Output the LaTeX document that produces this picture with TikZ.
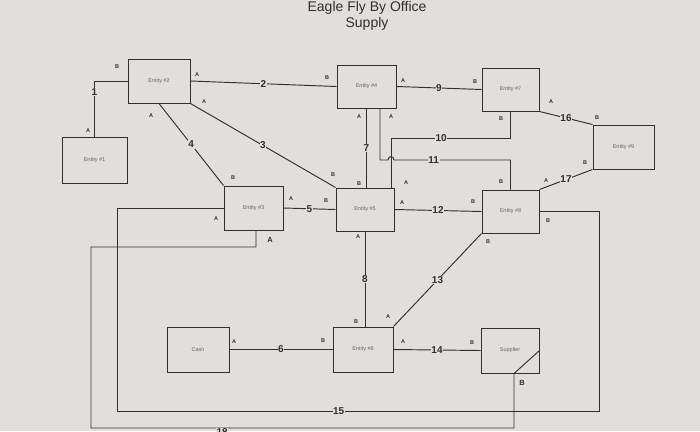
\documentclass[tikz,border=0pt]{standalone}
\usepackage{fontspec}
\setmainfont{Liberation Sans}
\usetikzlibrary{positioning}

\definecolor{paper}{RGB}{224,223,220}
\definecolor{ink}{RGB}{48,48,48}

\tikzset{
  entity/.style={draw=ink, line width=1pt, fill=paper, minimum width=59pt,
    minimum height=44pt, inner sep=0pt, text=ink!75,
    font=\fontsize{5.5}{6}\selectfont},
  link/.style={draw=ink, line width=0.95pt},
  num/.style={fill=paper, inner sep=0.6pt, text=ink,
    font=\bfseries\fontsize{10}{12}\selectfont},
  tag/.style={inner sep=0pt, text=ink, font=\bfseries\fontsize{5.5}{6}\selectfont},
  bigtag/.style={tag, font=\bfseries\fontsize{7.5}{8}\selectfont},
  title/.style={anchor=base, inner sep=0pt, text=ink,
    font=\fontsize{14}{16}\selectfont}
}

\begin{document}
\begin{tikzpicture}[x=1pt, y=-1pt]

        % Page and paper
        \useasboundingbox (0,0) rectangle (700,431);
        \fill[paper] (0,0) rectangle (700,431);

        % Title
        \node[title] (title) at (367,12) {Eagle Fly By Office};
        \node[title] (subtitle) at ([yshift=-15pt]title.base) {Supply};

        % The entities
        \node[entity, minimum width=65pt, minimum height=46pt] (e1) at (94.5,160) {Entity \#1};
        \node[entity, minimum width=62pt] (e2) at (159,81) {Entity \#2};
        \node[entity] (e3) at (253.5,208) {Entity \#3};
        \node[entity, minimum height=43pt] (e4) at (366.5,86.5) {Entity \#4};
        \node[entity, minimum width=58pt, minimum height=43pt] (e5) at (365,209.5) {Entity \#5};
        \node[entity, minimum width=60pt, minimum height=45pt] (e6) at (363,349.5) {Entity \#6};
        \node[entity, minimum width=57pt, minimum height=43pt] (e7) at (510.5,89.5) {Entity \#7};
        \node[entity, minimum width=57pt, minimum height=43pt] (e8) at (510.5,211.5) {Entity \#8};
        \node[entity, minimum width=61pt] (e9) at (623.5,147) {Entity \#9};
        \node[entity, minimum width=62pt, minimum height=45pt] (cash) at (198,349.5) {Cash};
        \node[entity, minimum width=58pt, minimum height=45pt] (supplier) at (510,350.5) {Supplier};

        % Corner points of the routed links
        \coordinate (k10) at (391,138);
        \coordinate (k11) at (380,160);
        \coordinate (hop) at (k10 |- k11);
        \coordinate (k15a) at (117,411);
        \coordinate (k15b) at (599,411);
        \coordinate (k18a) at (91,247);
        \coordinate (k18b) at (91,428);
        \coordinate (k18c) at (514,428);

        % Straight links
        \draw[link] (e1.north) |- node[num, pos=0.4] {1} (e2.west);
        \draw[link] (e2.east) -- node[num] {2} (e4.west);
        \draw[link] (e2.south east) -- node[num] {3} (e5.north west);
        \draw[link] (e2.south) -- node[num] {4} (e3.north west);
        \draw[link] (e3.east) -- node[num] {5} (e5.west);
        \draw[link] (cash.east) -- node[num] {6} (e6.west);
        \draw[link] (e4.south) -- node[num] {7} (e4.south |- e5.north);
        \draw[link] (e5.south) -- node[num] {8} (e5.south |- e6.north);
        \draw[link] (e4.east) -- node[num] {9} (e7.west);
        \draw[link] (e5.east) -- node[num] {12} (e8.west);
        \draw[link] (e8.south west) -- node[num] {13} (e6.north east);
        \draw[link] (e6.east) -- node[num] {14} (supplier.west);
        \draw[link] (e7.south east) -- node[num] {16} (e9.north west);
        \draw[link] (e8.north east) -- node[num] {17} (e9.south west);

        % Routed links
        \draw[link] (e7.south) |- node[num, pos=0.79] {10} (k10) -- (k10 |- e5.north);
        \draw[link] (k11 |- e4.south) -- (k11) -- ([xshift=-3pt]hop)
          .. controls ([xshift=-3pt, yshift=4.5pt]hop) and ([xshift=3pt, yshift=4.5pt]hop) .. ([xshift=3pt]hop)
          -- node[num, pos=0.34] {11} (k11 -| e8.north) -- (e8.north);
        \draw[link] (e3.west) -| (k15a) -- node[num, pos=0.46] {15} (k15b) |- (e8.east);
        \draw[link] ([xshift=2.5pt]e3.south) |- (k18a) -- (k18b)
          -- node[num, pos=0.31, yshift=-4pt] {18} (k18c)
          -- (k18c |- supplier.south) -- (supplier.east);

        % End letters of the links
        \foreach \x/\y/\t [count=\i] in {
            117/67/B, 88/131/A, 197/75/A, 327/78/B, 204/102/A, 333/175/B,
            151/116/A, 233/178/B, 291/199/A, 326/201/B, 403/81/A, 475/82/B,
            359/117/A, 359/184/B, 391/117/A, 501/182/B, 501/119/B, 406/183/A,
            551/102/A, 597/118/B, 546/181/A, 585/163/B, 402/203/A, 473/202/B,
            216/219/A, 548/221/B, 488/242/B, 388/317/A, 358/237/A, 356/322/B,
            234/342/A, 323/341/B, 403/342/A, 472/343/B}
          \node[tag] (t\i) at (\x,\y) {\t};
        \node[bigtag] (t18a) at (270,240) {A};
        \node[bigtag] (t18b) at (522,383) {B};

\end{tikzpicture}
\end{document}
